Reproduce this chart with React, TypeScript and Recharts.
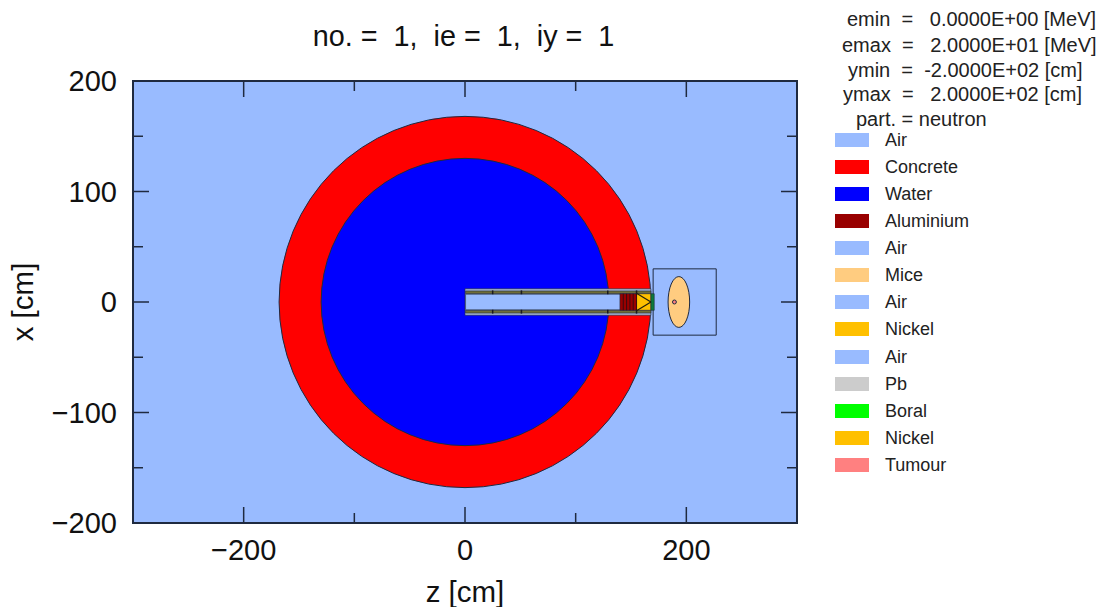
import { ComposedChart, XAxis, YAxis, ReferenceArea, ReferenceLine, Label } from "recharts";

const FONT = "'Liberation Sans', Arial, sans-serif";
const INK = "#1f2a40";

const zDomain = [-300, 300];
const xDomain = [-200, 200];
const zTicks = [-300, -200, -100, 0, 100, 200, 300];
const zLabelled = [-200, 0, 200];
const xTicks = [-200, -150, -100, -50, 0, 50, 100, 150, 200];
const xLabelled = [-200, -100, 0, 100, 200];

// [zMin, zMax, xMin, xMax, fill] in cm
const ellipses = [
  [-168, 168, -168, 168, "#ff0000"],
  [-130, 130, -130, 130, "#0000ff"],
  [183.5, 203, -23, 23, "#ffcc80"],
  [187.5, 191, -1.8, 1.8, "#ff8080"],
];

const boxes = [
  [170, 227, -30, 30, "#99bbff"],
  [0, 168, -12, 12, "#a8b8d4"],
  [0.5, 168, 7.5, 10, "#6f6d38"],
  [0.5, 168, -10, -7.5, "#6f6d38"],
  [0.5, 168, -7, 7, "#99bbff"],
  [140, 155, -7.5, 7.5, "#990000"],
  [155, 168, -7.5, 7.5, "#ffc000"],
  [168, 171, -7.5, 7.5, "#0b7a3a"],
];

const stripes = [143, 146, 149, 152, 155];
const railMarks = [25, 51, 129, 155];
const wedge = [
  [155, 8, 168, 0],
  [168, 0, 155, -8],
];

const headerLines = [
  ["emin  =   0.0000E+00 [MeV]", 847, 26],
  ["emax  =   2.0000E+01 [MeV]", 842, 52],
  ["ymin  =  -2.0000E+02 [cm]", 848, 77],
  ["ymax  =   2.0000E+02 [cm]", 843, 101],
  ["part. = neutron", 856, 126],
];

const legendNames = ["Air", "Concrete", "Water", "Aluminium", "Air", "Mice", "Air", "Nickel", "Air", "Pb", "Boral", "Nickel", "Tumour"];
const legendColors = ["#99bbff", "#ff0000", "#0000ff", "#990000", "#99bbff", "#ffcc80", "#99bbff", "#ffc000", "#99bbff", "#cccccc", "#00ff00", "#ffc000", "#ff8080"];
const legendRows = [140, 167, 194, 221, 248, 275, 302, 329, 357, 384, 411, 438, 465];

const EllipseShape = ({ x, y, width, height, fill }: any) => (
  <ellipse cx={x + width / 2} cy={y + height / 2} rx={width / 2} ry={height / 2} fill={fill} stroke={INK} strokeWidth={1} />
);

const ZTick = ({ x, payload }: any) => {
  const major = zLabelled.includes(payload.value);
  const len = major ? 16 : 10;
  const edge = payload.value === -300 || payload.value === 300;
  return (
    <g>
      {!edge && <line x1={x} x2={x} y1={523} y2={523 - len} stroke={INK} strokeWidth={1.5} />}
      {!edge && <line x1={x} x2={x} y1={81} y2={81 + len} stroke={INK} strokeWidth={1.5} />}
      {major && (
        <text x={x} y={560} textAnchor="middle" fontSize={29} fontFamily={FONT} fill="#111">
          {String(payload.value).replace("-", "\u2212")}
        </text>
      )}
    </g>
  );
};

const XTick = ({ y, payload }: any) => {
  const major = xLabelled.includes(payload.value);
  const len = major ? 16 : 10;
  const edge = payload.value === -200 || payload.value === 200;
  return (
    <g>
      {!edge && <line x1={133} x2={133 + len} y1={y} y2={y} stroke={INK} strokeWidth={1.5} />}
      {!edge && <line x1={797} x2={797 - len} y1={y} y2={y} stroke={INK} strokeWidth={1.5} />}
      {major && (
        <text x={117} y={y + 10} textAnchor="end" fontSize={29} fontFamily={FONT} fill="#111">
          {String(payload.value).replace("-", "\u2212")}
        </text>
      )}
    </g>
  );
};

const SideLegend = () => (
  <div style={{ position: "absolute", left: 0, top: 0, width: 1106, height: 607, pointerEvents: "none", fontFamily: FONT, color: "#222" }}>
    {headerLines.map(([text, left, base]) => (
      <div key={text as string} style={{ position: "absolute", left: left as number, top: (base as number) - 17, fontSize: 20, lineHeight: "20px", whiteSpace: "pre" }}>
        {text}
      </div>
    ))}
    {legendNames.map((name, i) => (
      <div key={i}>
        <div style={{ position: "absolute", left: 835, top: legendRows[i] - 7, width: 34, height: 14, background: legendColors[i] }} />
        <div style={{ position: "absolute", left: 885, top: legendRows[i] - 10, fontSize: 18, lineHeight: "20px" }}>{name}</div>
      </div>
    ))}
  </div>
);

export default function App() {
  return (
    <div style={{ position: "absolute", left: 0, top: 0, width: 1106, height: 607, background: "#fff" }}>
      <ComposedChart width={1106} height={607} data={[]} margin={{ top: 81, right: 309, bottom: 0, left: 33 }}>
        <ReferenceArea x1={zDomain[0]} x2={zDomain[1]} y1={xDomain[0]} y2={xDomain[1]} fill="#99bbff" fillOpacity={1} stroke={INK} strokeWidth={2} ifOverflow="visible" />
        {ellipses.slice(0, 2).map(([z1, z2, x1, x2, fill], i) => (
          <ReferenceArea key={i} x1={z1 as number} x2={z2 as number} y1={x1 as number} y2={x2 as number} fill={fill as string} fillOpacity={1} ifOverflow="visible" shape={<EllipseShape fill={fill} />} />
        ))}
        {boxes.map(([z1, z2, x1, x2, fill], i) => (
          <ReferenceArea key={i} x1={z1 as number} x2={z2 as number} y1={x1 as number} y2={x2 as number} fill={fill as string} fillOpacity={1} stroke={INK} strokeWidth={i === 0 ? 1 : 0.6} ifOverflow="visible" />
        ))}
        {ellipses.slice(2).map(([z1, z2, x1, x2, fill], i) => (
          <ReferenceArea key={i} x1={z1 as number} x2={z2 as number} y1={x1 as number} y2={x2 as number} fill={fill as string} fillOpacity={1} ifOverflow="visible" shape={<EllipseShape fill={fill} />} />
        ))}
        {stripes.map((z) => (
          <ReferenceLine key={z} segment={[{ x: z, y: -7.5 }, { x: z, y: 7.5 }]} stroke="#3a0a10" strokeWidth={1} ifOverflow="visible" />
        ))}
        {railMarks.map((z) => (
          <ReferenceLine key={z} segment={[{ x: z, y: 7 }, { x: z, y: 10.5 }]} stroke="#1a1a20" strokeWidth={1.5} ifOverflow="visible" />
        ))}
        {railMarks.map((z) => (
          <ReferenceLine key={-z} segment={[{ x: z, y: -10.5 }, { x: z, y: -7 }]} stroke="#1a1a20" strokeWidth={1.5} ifOverflow="visible" />
        ))}
        {wedge.map(([a, b, c, d], i) => (
          <ReferenceLine key={i} segment={[{ x: a, y: b }, { x: c, y: d }]} stroke="#22200c" strokeWidth={1.2} ifOverflow="visible" />
        ))}
        <XAxis type="number" dataKey="z" domain={zDomain} ticks={zTicks} interval={0} height={84} axisLine={false} tickLine={false} tick={ZTick} allowDataOverflow>
          <Label value="z [cm]" content={() => (
            <g>
              <text x={465} y={602} textAnchor="middle" fontSize={29.5} fontFamily={FONT} fill="#111">z [cm]</text>
              <text x={463.5} y={46} textAnchor="middle" fontSize={28.8} fontFamily={FONT} fill="#111" style={{ whiteSpace: "pre" }}>no. =  1,  ie =  1,  iy =  1</text>
            </g>
          )} />
        </XAxis>
        <YAxis type="number" dataKey="x" domain={xDomain} ticks={xTicks} interval={0} width={100} axisLine={false} tickLine={false} tick={XTick} allowDataOverflow>
          <Label value="x [cm]" content={({ viewBox }: any) => {
            const cy = viewBox.y + viewBox.height / 2;
            return (
              <text x={33} y={cy} transform={`rotate(-90 33 ${cy})`} textAnchor="middle" fontSize={29.5} fontFamily={FONT} fill="#111">x [cm]</text>
            );
          }} />
        </YAxis>
      </ComposedChart>
      <SideLegend />
    </div>
  );
}
